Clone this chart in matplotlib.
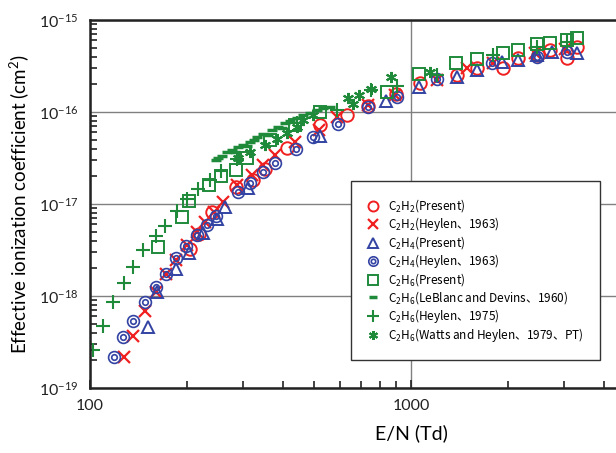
import matplotlib
matplotlib.use("Agg")
import matplotlib.pyplot as plt
from matplotlib.lines import Line2D

plt.rcParams['font.family'] = ['Lato', 'Noto Sans CJK JP', 'DejaVu Sans']
plt.rcParams['mathtext.default'] = 'regular'

RED = '#f02020'
BLUE = '#3343a3'
GREEN = '#1f8a3a'

# C2H2 (Present)
c2h2_en = [204.9, 218.6, 239.9, 285, 322, 351, 411, 520.6, 632, 735, 898, 1066,
           1390, 1605, 1935, 2154, 2486, 2710, 3062, 3290]
c2h2_k = [3.24e-18, 4.72e-18, 8.19e-18, 1.53e-17, 1.82e-17, 2.40e-17, 4.06e-17,
          7.22e-17, 9.28e-17, 1.16e-16, 1.57e-16, 2.07e-16, 2.52e-16, 3.01e-16,
          3.01e-16, 3.86e-16, 4.16e-16, 4.72e-16, 3.86e-16, 5.09e-16]

# C2H2 (Heylen, 1963)
c2h2_h_en = [127.6, 136.1, 148.4, 160.6, 172.5, 185.3, 200.6, 215.4, 228.1, 243.4,
             259.6, 287, 319.7, 345.9, 377, 435, 516.9, 588, 735, 891, 1205, 1495,
             1801, 2433, 3018]
c2h2_h_k = [2.17e-19, 3.67e-19, 6.87e-19, 1.10e-18, 1.73e-18, 2.46e-18, 3.58e-18,
            4.96e-18, 6.37e-18, 8.19e-18, 1.05e-17, 1.61e-17, 2.07e-17, 2.65e-17,
            3.41e-17, 4.72e-17, 6.37e-17, 8.82e-17, 1.19e-16, 1.53e-16, 2.23e-16,
            3.01e-16, 3.41e-16, 4.38e-16, 4.84e-16]

# C2H4 (Present)
c2h4_en = [151.1, 161.3, 185.3, 202.7, 224.9, 248.1, 263.4, 309.5, 520.6, 835.6,
           1059, 1390, 1605, 1921, 2154, 2469, 2749, 3290]
c2h4_k = [4.60e-19, 1.10e-18, 1.99e-18, 2.93e-18, 4.84e-18, 6.87e-18, 9.28e-18,
          1.49e-17, 5.48e-17, 1.32e-16, 1.87e-16, 2.40e-16, 2.86e-16, 3.50e-16,
          3.68e-16, 4.16e-16, 4.49e-16, 4.38e-16]

# C2H4 (Heylen, 1963)
c2h4_h_en = [118.8, 126.7, 136.1, 148.4, 160.6, 172.5, 185.3, 199.1, 215.4, 231.4,
             246.9, 289, 315, 345.9, 377, 438.3, 495, 592.4, 735, 904, 1205, 1788,
             2469, 3062]
c2h4_h_k = [2.17e-19, 3.58e-19, 5.35e-19, 8.61e-19, 1.25e-18, 1.73e-18, 2.59e-18,
            3.49e-18, 4.60e-18, 5.91e-18, 7.41e-18, 1.35e-17, 1.69e-17, 2.23e-17,
            2.79e-17, 3.96e-17, 5.35e-17, 7.41e-17, 1.13e-16, 1.46e-16, 2.28e-16,
            3.41e-16, 3.96e-16, 4.49e-16]

# C2H6 (Present)
c2h6_en = [162.5, 193.1, 203.4, 235.6, 255.9, 285, 308.3, 363.8, 435, 520.6, 841.7,
           1059, 1380, 1605, 1935, 2154, 2469, 2710, 3062, 3290]
c2h6_k = [3.44e-18, 7.28e-18, 1.08e-17, 1.61e-17, 2.01e-17, 2.34e-17, 3.20e-17,
          4.96e-17, 7.22e-17, 1.00e-16, 1.65e-16, 2.62e-16, 3.41e-16, 3.77e-16,
          4.41e-16, 4.72e-16, 5.45e-16, 5.67e-16, 6.06e-16, 6.33e-16]

# C2H6 (LeBlanc and Devins, 1960)
c2h6_lb_en = [246.9, 250.5, 257.8, 267.2, 277, 283, 289, 299.7, 308.3, 315, 324.3,
              331.4, 345.9, 358.5, 369, 385.2, 396.3, 405.1, 419.8, 441.4, 460.9,
              484.6, 509.6, 532, 559.5]
c2h6_lb_k = [3.01e-17, 3.16e-17, 3.32e-17, 3.67e-17, 3.86e-17, 3.67e-17, 4.17e-17,
             4.38e-17, 4.27e-17, 4.72e-17, 4.96e-17, 5.35e-17, 5.77e-17, 5.62e-17,
             6.37e-17, 6.87e-17, 6.70e-17, 7.59e-17, 7.98e-17, 8.61e-17, 9.28e-17,
             9.76e-17, 1.05e-16, 1.11e-16, 1.13e-16]

# C2H6 (Heylen, 1975)
c2h6_h_en = [101.9, 109.8, 117.9, 127.6, 136.1, 146.3, 160.6, 171.3, 186.6, 200.6,
             217, 236.5, 255.9, 287, 441.4, 588, 750, 904, 1205, 1801, 2469, 3062]
c2h6_h_k = [2.59e-19, 4.72e-19, 8.61e-19, 1.38e-18, 2.07e-18, 3.16e-18, 4.49e-18,
            5.77e-18, 8.39e-18, 1.13e-17, 1.46e-17, 1.82e-17, 2.28e-17, 3.08e-17,
            7.59e-17, 1.05e-16, 1.73e-16, 1.92e-16, 2.52e-16, 4.16e-16, 5.09e-16,
            5.77e-16]

# C2H6 (Watts and Heylen, 1979, PT)
c2h6_w_en = [289, 315, 351, 382, 411, 441, 461, 495, 636, 660, 689, 751, 866, 1146]
c2h6_w_k = [3.16e-17, 3.67e-17, 4.38e-17, 5.09e-17, 5.91e-17, 6.87e-17, 8.19e-17,
            9.28e-17, 1.42e-16, 1.22e-16, 1.53e-16, 1.78e-16, 2.40e-16, 2.72e-16]

x_ticks = [100, 1000]
x_tick_labels = ['100', '1000']
y_ticks = [1e-19, 1e-18, 1e-17, 1e-16, 1e-15]
y_tick_labels = ['$10^{-19}$', '$10^{-18}$', '$10^{-17}$', '$10^{-16}$', '$10^{-15}$']

fig = plt.figure(figsize=(6.16, 4.53), dpi=100)
# plot area runs past the right edge of the picture (cropped like the original)
ax = fig.add_axes([90 / 616, 65 / 453, 642 / 616, 368 / 453])

ax.plot(c2h2_en, c2h2_k, 'o', ms=9, mfc='none', mec=RED, mew=1.4,
        label='C$_2$H$_2$(Present)')
ax.plot(c2h2_h_en, c2h2_h_k, 'x', ms=9, color=RED, mew=1.6,
        label='C$_2$H$_2$(Heylen、1963)')
ax.plot(c2h4_en, c2h4_k, '^', ms=9, mfc='none', mec=BLUE, mew=1.4,
        label='C$_2$H$_4$(Present)')
# double circle marker: outer + inner ring
ax.plot(c2h4_h_en, c2h4_h_k, 'o', ms=4, mfc='none', mec=BLUE, mew=1.2)
ax.plot(c2h4_h_en, c2h4_h_k, 'o', ms=8.5, mfc='none', mec=BLUE, mew=1.2)
ax.plot(c2h6_en, c2h6_k, 's', ms=8.5, mfc='none', mec=GREEN, mew=1.4,
        label='C$_2$H$_6$(Present)')
ax.plot(c2h6_lb_en, c2h6_lb_k, '_', ms=7, color=GREEN, mew=2.5,
        label='C$_2$H$_6$(LeBlanc and Devins、1960)')
ax.plot(c2h6_h_en, c2h6_h_k, '+', ms=10, color=GREEN, mew=1.5,
        label='C$_2$H$_6$(Heylen、1975)')
ax.plot(c2h6_w_en, c2h6_w_k, marker=(6, 2, 0), ls='none', ms=8, color=GREEN, mew=1.5,
        label='C$_2$H$_6$(Watts and Heylen、1979、PT)')

ax.set_xscale('log')
ax.set_yscale('log')
ax.set_xlim(100, 10000)
ax.set_ylim(1e-19, 1e-15)
ax.set_xticks(x_ticks, x_tick_labels)
ax.set_yticks(y_ticks, y_tick_labels)

ax.grid(True, which='major', color='#808080', lw=1)
ax.set_axisbelow(True)
for s in ['left', 'bottom', 'top']:
    ax.spines[s].set_linewidth(1.8)
    ax.spines[s].set_color('#222222')
ax.tick_params(which='both', direction='in', top=False, right=False, width=1.2,
               labelsize=11.5, colors='#222222')
ax.tick_params(which='major', length=6, pad=8)
ax.tick_params(which='minor', length=5)
ax.tick_params(axis='y', which='major', length=0)

ax.set_xlabel('E/N (Td)', fontsize=14, labelpad=8)
ax.set_ylabel('Effective ionization coefficient (cm$^2$)', fontsize=13.5, labelpad=6)

handles, labels = ax.get_legend_handles_labels()
dbl = (Line2D([], [], ls='none', marker='o', ms=8.5, mfc='none', mec=BLUE, mew=1.2),
       Line2D([], [], ls='none', marker='o', ms=4, mfc='none', mec=BLUE, mew=1.2))
handles.insert(3, dbl)
labels.insert(3, 'C$_2$H$_4$(Heylen、1963)')
leg = ax.legend(handles, labels, loc='upper left', bbox_to_anchor=(351 / 616, 1 - 181 / 453),
                bbox_transform=fig.transFigure, borderaxespad=0,
                prop={'family': 'Noto Sans CJK JP', 'size': 8.5},
                frameon=True, fancybox=False,
                edgecolor='#333333', framealpha=1, handlelength=1.0, handletextpad=0.7,
                labelspacing=0.08, borderpad=1.4, markerscale=0.8)
leg.get_frame().set_linewidth(1.0)

fig.savefig('out.png', dpi=100)
